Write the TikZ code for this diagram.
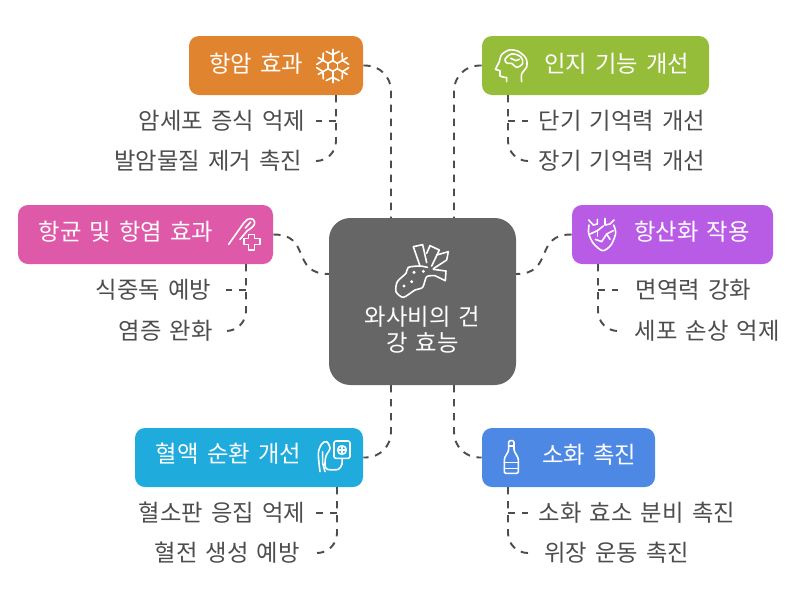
\documentclass[tikz,border=0pt]{standalone}
\usepackage{fontspec}
\setmainfont[WordSpace=1.55]{Noto Sans CJK KR}
\usepackage{tikz}
\usetikzlibrary{shapes, arrows.meta, positioning}
\definecolor{inkgray}{HTML}{4D4D4D}
\tikzstyle{hub} = [rectangle, fill=black!60, rounded corners=16pt, inner sep=0pt, minimum width=140.25pt, minimum height=125.25pt]
\tikzstyle{topic} = [rectangle, rounded corners=7.5pt, inner sep=0pt, minimum height=44.25pt]
\tikzstyle{topictext} = [text=white, font=\fontsize{17.5}{20}\selectfont, inner sep=0pt]
\tikzstyle{detail} = [text=inkgray, font=\fontsize{17.5}{20}\selectfont, inner ysep=0pt]
\tikzstyle{link} = [draw=inkgray, line width=1.45pt, dash pattern=on 5.5pt off 5pt]
\tikzstyle{glyph} = [draw=white, line width=1.2pt, line join=round, line cap=round]

\begin{document}
\begin{tikzpicture}[x=0.75pt, y=-0.75pt]
  \useasboundingbox (0,0) rectangle (804,608);

  % 중심
  \node[hub] (wasabi) at (422.5,301.5) {};
  \node[topictext, text width=130pt, align=center] (wasabitext) at (422.5,330) {와사비의 건\\[-0.5pt]강 효능};

  % 주제 상자
  \node[topic, fill={rgb,255:red,224;green,132;blue,47}, minimum width=130.5pt] (cancer) at (276,65.5) {};
  \node[topic, fill={rgb,255:red,150;green,189;blue,58}, minimum width=170.25pt] (brain) at (595.5,65.5) {};
  \node[topic, fill={rgb,255:red,222;green,89;blue,168}, minimum width=191.25pt] (germ) at (145.5,234.5) {};
  \node[topic, fill={rgb,255:red,185;green,92;blue,229}, minimum width=150.75pt] (oxid) at (672.5,234.5) {};
  \node[topic, fill={rgb,255:red,31;green,171;blue,219}, minimum width=171pt] (blood) at (249,457.5) {};
  \node[topic, fill={rgb,255:red,78;green,136;blue,229}, minimum width=129.75pt] (digest) at (568.5,457.5) {};

  \node[topictext] (cancertext) at (256,64) {항암 효과};
  \node[topictext] (braintext) at (616.5,64) {인지 기능 개선};
  \node[topictext] (germtext) at (126,232) {항균 및 항염 효과};
  \node[topictext] (oxidtext) at (692,232) {항산화 작용};
  \node[topictext] (bloodtext) at (228.5,454) {혈액 순환 개선};
  \node[topictext] (digesttext) at (589,455) {소화 촉진};

  % 세부 항목
  \node[detail, anchor=east, inner xsep=8pt] (cell) at (316,121) {암세포 증식 억제};
  \node[detail, anchor=east, inner xsep=10pt] (carcin) at (316,161) {발암물질 제거 촉진};
  \node[detail, anchor=west, inner xsep=8pt] (shortmem) at (528,121) {단기 기억력 개선};
  \node[detail, anchor=west, inner xsep=8pt] (longmem) at (528,161) {장기 기억력 개선};
  \node[detail, anchor=east, inner xsep=11pt] (food) at (226,290) {식중독 예방};
  \node[detail, anchor=east, inner xsep=9pt] (inflam) at (225,331) {염증 완화};
  \node[detail, anchor=west, inner xsep=13pt] (immune) at (618,290) {면역력 강화};
  \node[detail, anchor=west, inner xsep=12.5pt] (damage) at (618,331) {세포 손상 억제};
  \node[detail, anchor=east, inner xsep=8pt] (platelet) at (316,513) {혈소판 응집 억제};
  \node[detail, anchor=east, inner xsep=12pt] (clot) at (316,553) {혈전 생성 예방};
  \node[detail, anchor=west, inner xsep=8pt] (enzyme) at (528,513) {소화 효소 분비 촉진};
  \node[detail, anchor=west, inner xsep=12pt] (motion) at (528,553) {위장 운동 촉진};

  % 연결점
  \coordinate (hubnw) at (391,218);
  \coordinate (hubne) at (454,218);
  \coordinate (hubw) at (329,274);
  \coordinate (hube) at (516,274);
  \coordinate (hubsw) at (391,385);
  \coordinate (hubse) at (454,385);
  \coordinate (cancerstem) at (336,95);
  \coordinate (brainstem) at (508,95);
  \coordinate (germstem) at (246,264);
  \coordinate (oxidstem) at (598,264);
  \coordinate (bloodstem) at (337,487);
  \coordinate (digeststem) at (508,487);

  % 경로
  \draw[link, rounded corners=19pt] (cancer.east) -| (hubnw);
  \draw[link, rounded corners=19pt] (brain.west) -| (hubne);
  \draw[link] (germ.east) .. controls (312,234) and (290,274) .. (hubw);
  \draw[link] (oxid.west) .. controls (533,234) and (555,274) .. (hube);
  \draw[link, rounded corners=19pt] (hubsw) |- (blood.east);
  \draw[link, rounded corners=19pt] (hubse) |- (digest.west);

  \draw[link, rounded corners=15pt] (cancerstem) |- (carcin.east);
  \draw[link] (cancerstem |- cell.east) -- (cell.east);
  \draw[link, rounded corners=15pt] (brainstem) |- (longmem.west);
  \draw[link] (brainstem |- shortmem.west) -- (shortmem.west);
  \draw[link, rounded corners=15pt] (germstem) |- (inflam.east);
  \draw[link] (germstem |- food.east) -- (food.east);
  \draw[link, rounded corners=15pt] (oxidstem) |- (damage.west);
  \draw[link] (oxidstem |- immune.west) -- (immune.west);
  \draw[link, rounded corners=15pt] (bloodstem) |- (clot.east);
  \draw[link] (bloodstem |- platelet.east) -- (platelet.east);
  \draw[link, rounded corners=15pt] (digeststem) |- (motion.west);
  \draw[link] (digeststem |- enzyme.west) -- (enzyme.west);

  % 아이콘: 고추냉이
  \begin{scope}[shift={(320,210)}, x=0.25pt, y=-0.25pt]
    \draw[glyph] plot[smooth, tension=0.45] coordinates {(345,197) (320,200) (308,232) (285,240) (250,262) (228,245) (232,215) (258,190) (265,172) (300,168) (322,172)};
    \draw[glyph] (300,168) -- (280,110) -- (308,104) -- (320,158);
    \draw[glyph] (320,130) -- (330,107) -- (358,120) -- (335,168);
    \draw[glyph] (350,135) -- (385,125) -- (380,150) -- (340,176);
    \draw[glyph] (340,178) -- (378,183) -- (376,212) -- (345,197);
    \foreach \dotx/\doty in {282/187, 310/184, 275/215, 252/228}
      \fill[white] (\dotx,\doty) circle (5);
  \end{scope}

  % 아이콘: 눈송이
  \begin{scope}[shift={(332.7,66)}, x=0.25pt, y=-0.25pt]
    \foreach \a in {30,90,...,330} {
      \draw[glyph] (\a:16) -- (\a:50);
      \draw[glyph] (\a:34) -- (\a+24:48);
      \draw[glyph] (\a:34) -- (\a-24:48);
      \draw[glyph] (\a:16) -- (\a+60:16);
    }
  \end{scope}

  % 아이콘: 머리
  \begin{scope}[shift={(450,30)}, x=0.25pt, y=-0.25pt]
    \draw[glyph] plot[smooth, tension=0.5] coordinates {(215,155) (215,132) (230,110) (228,85) (205,64) (178,60) (155,74) (148,95)};
    \draw[glyph] (148,95) -- (136,118) -- (150,122) -- (150,138) -- (162,142) -- (170,142) -- (170,155);
    \draw[glyph] plot[smooth cycle, tension=0.6] coordinates {(165,88) (185,72) (212,80) (218,100) (200,112) (185,100) (172,100)};
    \draw[glyph] (182,85) -- (198,92) -- (208,88);
  \end{scope}

  % 아이콘: 면봉
  \begin{scope}[shift={(10,200)}, x=0.25pt, y=-0.25pt]
    \draw[glyph] (656,133) -- (702,68) .. controls (712,52) and (732,52) .. (734,66) .. controls (736,78) and (722,85) .. (712,92) -- (690,118);
    \draw[glyph] (706,84) -- (722,66);
    \draw[glyph] (716,104) -- (734,104) -- (734,116) -- (750,116) -- (750,134) -- (734,134) -- (734,150) -- (716,150) -- (716,134) -- (702,134) -- (702,116) -- (716,116) -- cycle;
  \end{scope}

  % 아이콘: 심장
  \begin{scope}[shift={(510,200)}, x=0.25pt, y=-0.25pt]
    \draw[glyph] plot[smooth, tension=0.5] coordinates {(237,75) (236,100) (250,130) (278,152) (303,135) (317,100) (311,75)};
    \draw[glyph] (236,60) -- (250,75) -- (262,72) -- (262,58);
    \draw[glyph] (285,55) -- (285,75) -- (300,72) -- (312,60);
    \draw[glyph] (240,102) -- (262,92) -- (280,78);
    \draw[glyph] (262,92) -- (262,108);
    \draw[glyph] (310,92) -- (290,102) -- (275,125) -- (256,118);
    \draw[glyph] (290,102) -- (300,118);
  \end{scope}

  % 아이콘: 수액
  \begin{scope}[shift={(130,380)}, x=0.25pt, y=-0.25pt]
    \draw[glyph] plot[smooth, tension=0.5] coordinates {(570,275) (565,220) (575,192) (590,185) (600,205) (588,228) (585,255) (592,268) (625,268) (636,252) (636,235)};
    \draw[glyph] (578,215) -- (578,250) -- (585,275);
    \draw[glyph, rounded corners=1.5pt] (612,183) rectangle (660,235);
    \draw[glyph] (636,210) circle (13);
    \draw[glyph] (628,210) -- (644,210);
    \draw[glyph] (636,202) -- (636,218);
  \end{scope}

  % 아이콘: 병
  \begin{scope}[shift={(445,380)}, x=0.25pt, y=-0.25pt]
    \draw[glyph, rounded corners=1pt] (191,182) -- (207,182) -- (207,212) -- (220,235) -- (220,280) -- (178,280) -- (178,235) -- (191,212) -- cycle;
    \draw[glyph] (178,247) -- (220,247);
    \draw[glyph] (178,265) -- (220,265);
    \draw[glyph] (192,198) -- (206,198);
  \end{scope}
\end{tikzpicture}
\end{document}
